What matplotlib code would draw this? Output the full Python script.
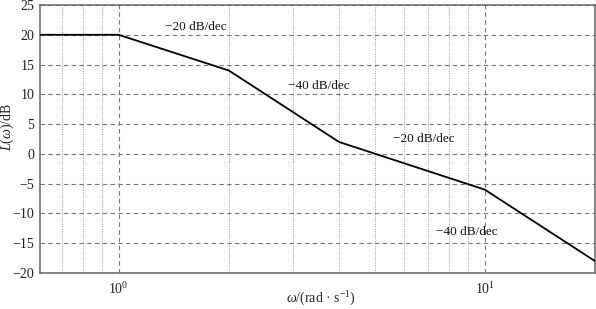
import matplotlib
matplotlib.use("Agg")
import matplotlib.pyplot as plt
from matplotlib.ticker import LogLocator, FixedLocator, NullFormatter

# Corner frequencies (rad/s) and asymptotic magnitude (dB)
omega = [0.61, 1, 2, 4, 10, 20]
L_db = [20, 20, 14, 2, -6, -18]

# Slope annotations
slope_labels = ["\u221220 dB/dec", "\u221240 dB/dec", "\u221220 dB/dec", "\u221240 dB/dec"]
slope_x = [1.62, 3.53, 6.83, 8.95]
slope_y = [21.3, 11.4, 2.5, -13.1]

yticks = [-20, -15, -10, -5, 0, 5, 10, 15, 20, 25]

plt.rcParams['font.family'] = ['Liberation Serif', 'DejaVu Serif']
plt.rcParams['mathtext.fontset'] = 'custom'
plt.rcParams['mathtext.rm'] = 'Liberation Serif'
plt.rcParams['mathtext.it'] = 'Liberation Serif:italic'

fig = plt.figure(figsize=(5.96, 3.09), dpi=100)
ax = fig.add_axes([40/596, 1 - 273/309, (595-40)/596, (273-5)/309])

ax.set_xscale('log')
ax.set_xlim(0.61, 20)
ax.set_ylim(-20, 25)
ax.set_yticks(yticks)

ax.xaxis.set_major_locator(FixedLocator([1, 10]))
ax.xaxis.set_minor_locator(LogLocator(base=10, subs=range(2, 10), numticks=10))
ax.xaxis.set_minor_formatter(NullFormatter())
ax.set_xticklabels([r'$10^0$', r'$10^1$'])

ax.grid(True, which='major', axis='both', color='#777777', linestyle=(0, (4, 3)), linewidth=0.8)
ax.grid(True, which='minor', axis='x', color='#999999', linestyle=(0, (1, 1.5)), linewidth=0.7)

ax.tick_params(axis='y', which='both', length=0, labelsize=10, pad=4, colors='#222222')
ax.tick_params(axis='x', which='both', length=0, labelsize=10, pad=6, colors='#222222')

for s in ax.spines.values():
    s.set_color('#666666')
    s.set_linewidth(1.1)

ax.plot(omega, L_db, color='black', linewidth=1.3, zorder=3)

for t, x, y in zip(slope_labels, slope_x, slope_y):
    ax.text(x, y, t, ha='center', va='center', fontsize=9.5, color='#111111')

ax.text(-0.059, 0.545, r'$L(\omega)$/dB', transform=ax.transAxes, rotation=90,
        ha='center', va='center', fontsize=10, color='#222222')
ax.text(0.506, -0.098, '$\\omega$/(rad \u00b7 s$^{\\mathregular{-1}}$)', transform=ax.transAxes,
        ha='center', va='center', fontsize=10, color='#222222')

fig.savefig('out.png', dpi=100)
